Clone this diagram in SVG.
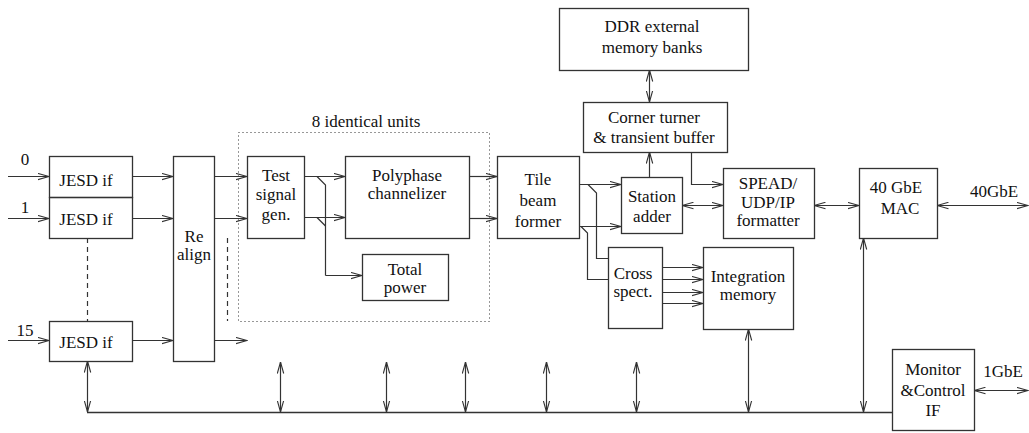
<svg xmlns="http://www.w3.org/2000/svg" width="1029" height="433" viewBox="0 0 1029 433">
<style>
.b{fill:none;stroke:#333;stroke-width:1.3}
.l{fill:none;stroke:#333;stroke-width:1.2}
.a{fill:none;stroke:#333;stroke-width:1.2;marker-end:url(#ah)}
.d{fill:none;stroke:#333;stroke-width:1.2;marker-end:url(#ah);marker-start:url(#as)}
.t{font-family:"Liberation Serif","Times New Roman",serif;font-size:17px;fill:#111;text-anchor:middle}
</style>
<defs>
<marker id="ah" viewBox="0 0 12 8" refX="11.5" refY="4" markerWidth="12" markerHeight="8" markerUnits="userSpaceOnUse" orient="auto">
<path d="M0,0.8 L11.5,4 L0,7.2" fill="none" stroke="#333" stroke-width="1.1"/>
</marker>
<marker id="as" viewBox="0 0 12 8" refX="0.5" refY="4" markerWidth="12" markerHeight="8" markerUnits="userSpaceOnUse" orient="auto">
<path d="M12,0.8 L0.5,4 L12,7.2" fill="none" stroke="#333" stroke-width="1.1"/>
</marker>
</defs>
<rect width="1029" height="433" fill="#fff"/>

<g id="unitsbox">
<rect x="238.5" y="132.5" width="251" height="189" fill="none" stroke="#333" stroke-width="1.1" stroke-dasharray="1 3"/>
<text class="t" x="366" y="127">8 identical units</text>
</g>

<g id="jesd0"><rect class="b" x="49.5" y="156.5" width="83" height="41"/><text class="t" x="86" y="186">JESD if</text></g>
<g id="jesd1"><rect class="b" x="49.5" y="197.5" width="83" height="41"/><text class="t" x="86" y="225">JESD if</text></g>
<g id="jesd15"><rect class="b" x="49.5" y="321.5" width="83" height="40"/><text class="t" x="86" y="348">JESD if</text></g>
<g id="realign"><rect class="b" x="173.5" y="156.5" width="41" height="205"/><text class="t" x="194" y="242">Re</text><text class="t" x="194" y="260">align</text></g>
<g id="testgen"><rect class="b" x="247.5" y="156.5" width="57" height="82"/><text class="t" x="276" y="181">Test</text><text class="t" x="276" y="200">signal</text><text class="t" x="276" y="220">gen.</text></g>
<g id="polyphase"><rect class="b" x="345.5" y="156.5" width="124" height="82"/><text class="t" x="407" y="181">Polyphase</text><text class="t" x="407" y="199">channelizer</text></g>
<g id="totalpower"><rect class="b" x="362.5" y="254.5" width="86" height="46"/><text class="t" x="405" y="275">Total</text><text class="t" x="405" y="293">power</text></g>
<g id="tile"><rect class="b" x="497.5" y="156.5" width="82" height="82"/><text class="t" x="538" y="185">Tile</text><text class="t" x="538" y="206">beam</text><text class="t" x="538" y="227">former</text></g>
<g id="ddr"><rect class="b" x="559.5" y="8.5" width="189" height="62"/><text class="t" x="652" y="32">DDR external</text><text class="t" x="652" y="53">memory banks</text></g>
<g id="corner"><rect class="b" x="583.5" y="102.5" width="144" height="50"/><text class="t" x="654" y="123">Corner turner</text><text class="t" x="654" y="143">&amp; transient buffer</text></g>
<g id="station"><rect class="b" x="621.5" y="177.5" width="61" height="56"/><text class="t" x="652" y="202">Station</text><text class="t" x="652" y="222">adder</text></g>
<g id="cross"><rect class="b" x="608.5" y="247.5" width="54" height="81"/><text class="t" x="633" y="279">Cross</text><text class="t" x="633" y="297">spect.</text></g>
<g id="integration"><rect class="b" x="703.5" y="247.5" width="90" height="82"/><text class="t" x="748" y="282">Integration</text><text class="t" x="748" y="300">memory</text></g>
<g id="spead"><rect class="b" x="723.5" y="168.5" width="91" height="70"/><text class="t" x="768" y="189">SPEAD/</text><text class="t" x="768" y="208">UDP/IP</text><text class="t" x="768" y="226">formatter</text></g>
<g id="mac"><rect class="b" x="859.5" y="168.5" width="78" height="70"/><text class="t" x="896" y="193">40 GbE</text><text class="t" x="900" y="214">MAC</text></g>
<g id="monitor"><rect class="b" x="892.5" y="349.5" width="82" height="81"/><text class="t" x="933" y="375">Monitor</text><text class="t" x="933" y="396">&amp;Control</text><text class="t" x="933" y="416">IF</text></g>

<g id="labels">
<text class="t" x="25" y="165">0</text>
<text class="t" x="25" y="213">1</text>
<text class="t" x="25" y="336">15</text>
<text class="t" x="994" y="197">40GbE</text>
<text class="t" x="1003" y="377">1GbE</text>
</g>

<g id="connectors">
<path class="a" d="M8,176.5 H49"/>
<path class="a" d="M8,218.5 H49"/>
<path class="a" d="M8,340.5 H49"/>
<path class="a" d="M132,176.5 H173"/>
<path class="a" d="M132,218.5 H173"/>
<path class="a" d="M132,340.5 H173"/>
<path class="l" d="M87.5,238 V321" stroke-dasharray="5 4"/>
<path class="l" d="M227.5,238 V321" stroke-dasharray="5 4"/>
<path class="a" d="M214,176.5 H247"/>
<path class="a" d="M214,218.5 H247"/>
<path class="a" d="M214,340.5 H247"/>
<path class="a" d="M304,176.5 H345"/>
<path class="a" d="M304,217.5 H345"/>
<path class="l" d="M317,176.5 L325.5,185 V275.5"/>
<path class="l" d="M317,217.5 L325.5,226"/>
<path class="a" d="M325.5,275.5 H362"/>
<path class="a" d="M469,176.5 H497"/>
<path class="a" d="M469,218.5 H497"/>
<path class="a" d="M579,184.5 H621"/>
<path class="a" d="M579,226.5 H621"/>
<path class="l" d="M588,184.5 L596.5,193 V258.5 H608"/>
<path class="l" d="M581,226.5 L587.5,233 V279.5 H608"/>
<path class="d" d="M649.5,70 V102"/>
<path class="a" d="M649.5,177 V152"/>
<path class="a" d="M691.5,152 V184.5 H723"/>
<path class="d" d="M682,205.5 H723"/>
<path class="a" d="M662,267.5 H703"/>
<path class="a" d="M662,279.5 H703"/>
<path class="a" d="M662,292.5 H703"/>
<path class="a" d="M662,303.5 H703"/>
<path class="d" d="M814,205.5 H859"/>
<path class="d" d="M937,205.5 H1028"/>
<path class="d" d="M974,390.5 H1028"/>
<path d="M87,412.5 H892" fill="none" stroke="#333" stroke-width="1.6"/>
<path class="d" d="M87.5,361 V412"/>
<path class="d" d="M280.5,362 V412"/>
<path class="d" d="M386.5,362 V412"/>
<path class="d" d="M465.5,362 V412"/>
<path class="d" d="M546.5,362 V412"/>
<path class="d" d="M636.5,362 V412"/>
<path class="d" d="M748.5,329 V412"/>
<path class="d" d="M863.5,238 V412"/>
</g>
</svg>
